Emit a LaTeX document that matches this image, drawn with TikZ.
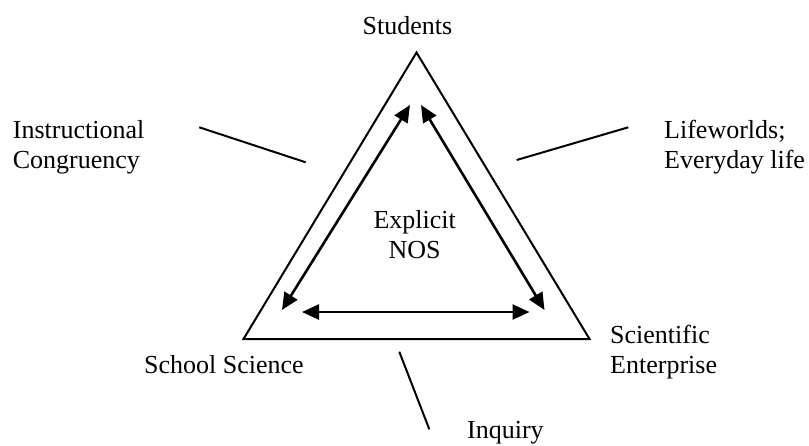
\documentclass[tikz,border=0pt]{standalone}
\usepackage{fontspec}
\setmainfont{Liberation Serif}
\usetikzlibrary{arrows.meta}
\begin{document}
\begin{tikzpicture}[x=1pt,y=-1pt,
  label text/.style={inner sep=0pt, font=\fontsize{26}{30}\selectfont},
  frame/.style={line width=2pt, line join=miter},
  link/.style={line width=2.6pt, {Triangle[length=17pt,width=15pt]}-{Triangle[length=17pt,width=15pt]}},
  callout/.style={line width=2pt}]
\useasboundingbox (0,0) rectangle (809,445);

% corners of the triangle
\coordinate (apex) at (416.5,52.5);
\coordinate (bl) at (243.5,339);
\coordinate (br) at (589.5,339);
\draw[frame] (apex) -- (br) -- (bl) -- cycle;

% corner labels (multi-line nodes sit on the baseline of their last line)
\node[label text, anchor=base] (students) at (407.5,34.3) {Students};
\node[label text, anchor=base west] (school) at (144,373.3) {School Science};
\node[label text, anchor=base west, align=left] (enterprise) at (610,373.3) {Scientific\\Enterprise};

% side labels
\node[label text, anchor=base west, align=left] (congruency) at (12.7,168.5) {Instructional\\Congruency};
\node[label text, anchor=base west, align=left] (lifeworlds) at (664,168.5) {Lifeworlds;\\Everyday life};
\node[label text, anchor=base west] (inquiry) at (467,438.5) {Inquiry};

% centre label
\node[label text, anchor=base, align=center] (nos) at (414.7,258.3) {Explicit\\NOS};

% two-way links inside the triangle
\coordinate (l1) at (410,105);  \coordinate (l2) at (282,310);
\coordinate (r1) at (421,105);  \coordinate (r2) at (544.5,310);
\coordinate (b1) at (302,312);  \coordinate (b2) at (529.5,312);
\draw[link] (l1) -- (l2);
\draw[link] (r1) -- (r2);
\draw[link] (b1) -- (b2);

% callout strokes pointing at the sides
\coordinate (c1) at (199.3,127.3); \coordinate (c2) at (305.7,162.3);
\coordinate (w1) at (516.7,160);   \coordinate (w2) at (628.3,127.3);
\coordinate (q1) at (399.3,351.7); \coordinate (q2) at (429.3,429.3);
\draw[callout] (c1) -- (c2);
\draw[callout] (w1) -- (w2);
\draw[callout] (q1) -- (q2);
\end{tikzpicture}
\end{document}
